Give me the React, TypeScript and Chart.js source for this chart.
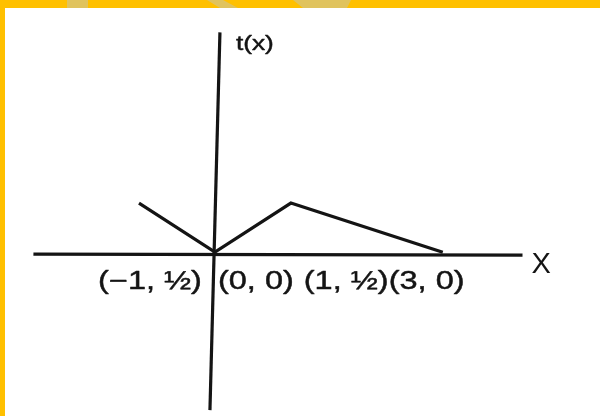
import React, { useEffect, useRef } from 'react';
import { Chart, registerables } from 'chart.js';

Chart.register(...registerables);

// Piecewise-linear function t(x) through its corner points
const X_VALUES = [-1, 0, 1, 3];
const T_VALUES = [0.5, 0, 0.5, 0];
const POINT_LABELS = ['(−1, ½)', '(0, 0)', '(1, ½)', '(3, 0)'];
const X_AXIS_TITLE = 'X';
const Y_AXIS_TITLE = 't(x)';

// Visible window of the coordinate plane
const X_RANGE = [-2.83, 5.07];
const Y_RANGE = [-1.67, 2.57];
// Extent of the drawn axis lines (in data units)
const X_AXIS_SPAN = [-2.39, 4.05];
const Y_AXIS_SPAN = [-1.61, 2.24];

const INK = '#141414';
const FONT = '"Liberation Sans", Arial, Helvetica, sans-serif';

function drawStretched(
  ctx: CanvasRenderingContext2D,
  text: string,
  x: number,
  y: number,
  size: number,
  sx: number,
  align: CanvasTextAlign = 'left',
  weight = 0.45
): number {
  ctx.save();
  ctx.font = `${size}px ${FONT}`;
  ctx.fillStyle = INK;
  ctx.strokeStyle = INK;
  ctx.lineWidth = weight;
  ctx.lineJoin = 'round';
  ctx.textAlign = align;
  ctx.textBaseline = 'alphabetic';
  ctx.translate(x, y);
  ctx.scale(sx, 1);
  ctx.fillText(text, 0, 0);
  if (weight > 0) ctx.strokeText(text, 0, 0);
  const w = ctx.measureText(text).width * sx;
  ctx.restore();
  return w;
}

const framePlugin = {
  id: 'frame',
  beforeDraw(chart: Chart) {
    const { ctx, width, height } = chart;
    ctx.save();
    ctx.fillStyle = '#ffffff';
    ctx.fillRect(0, 0, width, height);
    // yellow page border (top and left)
    ctx.fillStyle = '#ffc000';
    ctx.fillRect(0, 0, width, 8);
    ctx.fillRect(0, 0, 5, height);
    // faded marks in the top band
    ctx.fillStyle = '#e0c35e';
    ctx.fillRect(67, 0, 21, 8);
    ctx.beginPath();
    ctx.moveTo(207, 0);
    ctx.lineTo(223, 0);
    ctx.lineTo(238, 8);
    ctx.lineTo(220, 8);
    ctx.closePath();
    ctx.fill();
    ctx.beginPath();
    ctx.moveTo(293, 0);
    ctx.lineTo(351, 0);
    ctx.lineTo(347, 8);
    ctx.lineTo(303, 8);
    ctx.closePath();
    ctx.fill();
    ctx.restore();
  },
};

const axesPlugin = {
  id: 'axesCross',
  beforeDatasetsDraw(chart: Chart) {
    const { ctx } = chart;
    const xs = chart.scales.x;
    const ys = chart.scales.y;
    const ox = xs.getPixelForValue(0);
    const oy = ys.getPixelForValue(0);
    ctx.save();
    ctx.strokeStyle = INK;
    ctx.lineWidth = 3.2;
    ctx.lineCap = 'butt';
    ctx.beginPath();
    ctx.moveTo(xs.getPixelForValue(X_AXIS_SPAN[0]), oy + 2);
    ctx.lineTo(xs.getPixelForValue(X_AXIS_SPAN[1]), oy + 3);
    ctx.stroke();
    ctx.beginPath();
    const top = ys.getPixelForValue(Y_AXIS_SPAN[1]);
    const bottom = ys.getPixelForValue(Y_AXIS_SPAN[0]);
    ctx.moveTo(ox + 5, top);
    ctx.lineTo(ox - 5, bottom);
    ctx.stroke();
    ctx.restore();
  },
  afterDraw(chart: Chart) {
    const { ctx } = chart;
    const xs = chart.scales.x;
    const ys = chart.scales.y;
    const ox = xs.getPixelForValue(0);
    const oy = ys.getPixelForValue(0);
    const top = ys.getPixelForValue(Y_AXIS_SPAN[1]);

    // axis titles
    drawStretched(ctx, Y_AXIS_TITLE, ox + 21, top + 18, 21, 1.25);
    drawStretched(ctx, X_AXIS_TITLE, xs.getPixelForValue(X_AXIS_SPAN[1]) + 9, oy + 21, 29, 1.0, 'left', 0);

    // coordinate labels in a row under the x axis
    const base = oy + 37;
    const size = 25;
    const sx = 1.3;
    drawStretched(ctx, POINT_LABELS[0], ox - 13, base, size, sx, 'right');
    let cursor = ox + 3;
    cursor += drawStretched(ctx, POINT_LABELS[1], cursor, base, size, sx);
    cursor += 10;
    cursor += drawStretched(ctx, POINT_LABELS[2], cursor, base, size, sx);
    drawStretched(ctx, POINT_LABELS[3], cursor, base, size, sx);
  },
};

export default function App() {
  const canvasRef = useRef<HTMLCanvasElement | null>(null);

  useEffect(() => {
    const canvas = canvasRef.current;
    if (!canvas) return;
    const chart = new Chart(canvas, {
      type: 'line',
      data: {
        datasets: [
          {
            data: X_VALUES.map((x, i) => ({ x, y: T_VALUES[i] })),
            borderColor: INK,
            borderWidth: 3.2,
            pointRadius: 0,
            fill: false,
            tension: 0,
          },
        ],
      },
      options: {
        responsive: false,
        animation: false,
        devicePixelRatio: 1,
        layout: { padding: 0 },
        plugins: { legend: { display: false }, tooltip: { enabled: false } },
        scales: {
          x: { type: 'linear', display: false, min: X_RANGE[0], max: X_RANGE[1] },
          y: { type: 'linear', display: false, min: Y_RANGE[0], max: Y_RANGE[1] },
        },
      },
      plugins: [framePlugin, axesPlugin],
    });
    return () => chart.destroy();
  }, []);

  return (
    <div style={{ position: 'fixed', left: 0, top: 0, width: 600, height: 416, background: '#fff' }}>
      <canvas ref={canvasRef} width={600} height={416} />
    </div>
  );
}
